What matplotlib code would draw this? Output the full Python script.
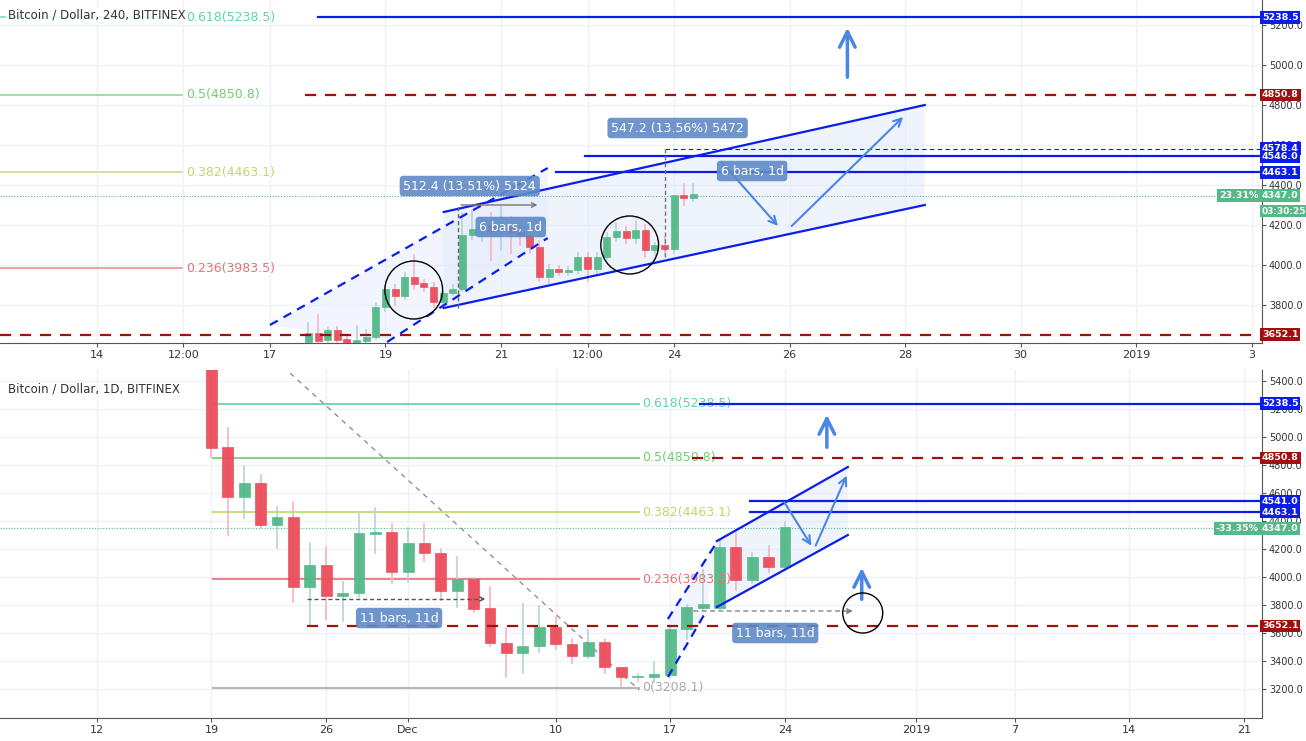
import matplotlib
matplotlib.use("Agg")
import matplotlib.pyplot as plt
from matplotlib.patches import Ellipse, Polygon, FancyArrowPatch
from matplotlib.transforms import blended_transform_factory as btf

plt.rcParams['font.family'] = ['DejaVu Sans']

# ---------------- 4H data (x = days from Dec 17 00:00, bar = 4h) -------------
h4_idx = list(range(4, 45))
h4_open = [3617,3662,3625,3675,3628,3612,3622,3642,3788,3880,3845,3942,3908,3892,3813,3862,3880,4150,4178,4200,4170,4190,4165,4150,4092,3938,3980,3963,3975,4038,3980,4042,4142,4170,4133,4175,4075,4100,4080,4350,4337]
h4_close= [3662,3622,3675,3625,3612,3625,3642,3788,3880,3845,3942,3905,3888,3813,3862,3882,4150,4178,4200,4170,4190,4165,4150,4092,3938,3980,3963,3977,4038,3980,4042,4142,4172,4133,4175,4075,4100,4080,4350,4337,4355]
h4_high = [3709,3750,3690,3690,3640,3695,3675,3808,3900,3900,3962,4050,3925,3910,3870,3900,4258,4270,4230,4258,4292,4242,4200,4175,4120,4000,3995,3990,4060,4060,4060,4160,4210,4190,4220,4200,4110,4140,4110,4403,4403]
h4_low  = [3600,3600,3605,3600,3598,3600,3610,3630,3770,3800,3828,3880,3870,3788,3800,3850,3870,4130,4120,4025,4075,4058,4100,4060,3920,3910,3950,3950,3960,3920,3960,4030,4120,4110,4110,4038,4050,4050,4060,4300,4320]

# ---------------- 1D data (x = days from Dec 1) -----------------------------
d1_idx = list(range(-12, 24))
d1_open = [5620,4929,4571,4671,4371,4429,3929,4086,3864,3886,4307,4321,4036,4243,4171,3900,3986,3779,3529,3457,3507,3643,3521,3436,3536,3357,3286,3286,3300,3629,3779,3779,4214,3979,4143,4071]
d1_close= [4921,4571,4671,4371,4429,3929,4086,3864,3886,4314,4321,4036,4243,4171,3900,3986,3771,3529,3457,3507,3643,3521,3436,3536,3357,3286,3293,3307,3629,3786,3807,4214,3979,4143,4071,4357]
d1_high = [5650,5064,4793,4729,4500,4536,4243,4214,3964,4457,4493,4379,4350,4379,4200,4143,3993,3929,3636,3807,3793,3714,3557,3621,3557,3300,3310,3393,3650,3800,4050,4257,4314,4171,4221,4393]
d1_low  = [4857,4300,4421,4350,4207,3821,3657,3700,3686,3860,4171,3957,3964,4114,3836,3786,3750,3507,3286,3314,3464,3486,3386,3421,3314,3221,3260,3250,3286,3557,3764,3770,3907,3960,4036,4050]

fib_ratios = ["0.618", "0.5", "0.382", "0.236", "0"]
fib_prices = [5238.5, 4850.8, 4463.1, 3983.5, 3208.1]
fib_colors = ["#5fd3b0", "#6fcf6f", "#b8dc6a", "#e57373", "#aaaaaa"]

top_xticks = [-3, -1.5, 0, 2, 4, 5.5, 7, 9, 11, 13, 15, 17]
top_xlabels = ["14", "12:00", "17", "19", "21", "12:00", "24", "26", "28", "30", "2019", "3"]
bot_xticks = [-19, -12, -5, 0, 9, 16, 23, 31, 37, 44, 51]
bot_xlabels = ["12", "19", "26", "Dec", "10", "17", "24", "2019", "7", "14", "21"]

GREEN = "#53b987"; RED = "#eb4d5c"; BLUE = "#0b1ee8"; DRED = "#a01010"
BOXC = "#5f8ac7"; ARW = "#4a86e8"

fig = plt.figure(figsize=(13.06, 7.41), dpi=100)
ax1 = fig.add_axes([0, 398/741, 1262/1306, 343/741])
ax2 = fig.add_axes([0, 23/741, 1262/1306, 348/741])

def style(ax, ylim, xlim, yt, xt, xl):
    ax.set_xlim(*xlim); ax.set_ylim(*ylim)
    ax.yaxis.tick_right()
    ax.set_yticks(yt); ax.set_yticklabels([f"{v:.1f}" for v in yt], fontsize=7, color="#333")
    ax.set_xticks(xt); ax.set_xticklabels(xl, fontsize=8, color="#333")
    ax.grid(True, color="#eef1f6", lw=1)
    ax.set_axisbelow(True)
    for s in ["top", "left"]:
        ax.spines[s].set_visible(False)
    ax.spines["right"].set_color("#555"); ax.spines["bottom"].set_color("#555")
    ax.tick_params(length=3, color="#555", pad=2)

style(ax1, (3610, 5325), (-4.675, 17.18), list(range(3800, 5400, 200)), top_xticks, top_xlabels)
style(ax2, (2993, 5479), (-24.9, 52.1), list(range(3200, 5600, 200)), bot_xticks, bot_xlabels)

def candles(ax, xs, o, c, h, l, w):
    for x, oo, cc, hh, ll in zip(xs, o, c, h, l):
        col = GREEN if cc >= oo else RED
        wc = "#b5d3d8" if cc >= oo else "#f5b5bd"
        ax.plot([x, x], [ll, hh], color=wc, lw=1.2, zorder=3)
        ax.bar(x, abs(cc - oo) or 3, w, bottom=min(oo, cc), color=col, edgecolor=col, lw=0.5, zorder=4, alpha=0.95)

candles(ax1, [k / 6 for k in h4_idx], h4_open, h4_close, h4_high, h4_low, 0.12)
candles(ax2, d1_idx, d1_open, d1_close, d1_high, d1_low, 0.66)

def box(ax, x, y, s, fs=9):
    ax.text(x, y, s, ha="center", va="center", color="white", fontsize=fs, zorder=9,
            bbox=dict(boxstyle="round,pad=0.3", fc=BOXC, ec="none", alpha=0.9))

def rlabel(ax, y, s, fc, dx=1.0, ha="left", fs=6.8):
    ax.text(dx, y, s, transform=btf(ax.transAxes, ax.transData), ha=ha, va="center",
            fontsize=fs, color="white", fontweight="bold", zorder=20, clip_on=False,
            bbox=dict(boxstyle="square,pad=0.18", fc=fc, ec="none"))

def arrow(ax, p0, p1, color=ARW, lw=1.5, ms=14):
    ax.add_patch(FancyArrowPatch(p0, p1, arrowstyle="->", mutation_scale=ms, color=color, lw=lw, zorder=7))

# ---------------- top panel drawings ----------------
for r, p, c in zip(fib_ratios[:4], fib_prices[:4], fib_colors[:4]):
    ax1.plot([-4.7, -1.52], [p, p], color=c, lw=1.2, alpha=0.8, zorder=2)
    ax1.text(-1.45, p, f"{r}({p})", color=c, fontsize=9, va="center", zorder=5)
ax1.axhline(4347, color="#53b987", lw=0.8, ls=(0, (1, 1.5)), zorder=2)
ax1.axhline(3652.1, color=DRED, lw=1.6, ls=(0, (5, 4)), zorder=5)
ax1.plot([0.83, 17.2], [5238.5] * 2, color=BLUE, lw=1.6, zorder=5)
ax1.plot([0.61, 17.2], [4850.8] * 2, color=DRED, lw=1.6, ls=(0, (5, 4)), zorder=5)
ax1.plot([5.45, 17.2], [4546] * 2, color=BLUE, lw=1.6, zorder=5)
ax1.plot([4.96, 17.2], [4463.1] * 2, color=BLUE, lw=1.6, zorder=5)
ax1.plot([6.84, 17.2], [4578.4] * 2, color=BLUE, lw=0.8, ls=(0, (4, 3)), zorder=5)
ax1.add_patch(Polygon([(3.01, 4265), (11.34, 4800), (11.34, 4300), (3.01, 3785)], fc="#dfe8fb", ec="none", alpha=0.5, zorder=1))
ax1.add_patch(Polygon([(0, 3700), (4.81, 4485), (4.81, 4135), (2.03, 3615)], fc="#dfe8fb", ec="none", alpha=0.4, zorder=1))
ax1.plot([3.01, 11.34], [4265, 4800], color=BLUE, lw=1.6, zorder=6)
ax1.plot([3.01, 11.34], [3785, 4300], color=BLUE, lw=1.6, zorder=6)
ax1.plot([0, 4.81], [3700, 4485], color=BLUE, lw=1.6, ls=(0, (4, 3)), zorder=6)
ax1.plot([2.03, 4.81], [3615, 4135], color=BLUE, lw=1.6, ls=(0, (4, 3)), zorder=6)
ax1.plot([3.26, 3.26], [3785, 4300], color="#666", lw=1, ls=(0, (3, 2)), zorder=6)
arrow(ax1, (3.26, 4300), (4.68, 4300), color="#777", lw=1, ms=8)
ax1.plot([6.84, 6.84], [4040, 4578], color="#777", lw=1, ls=(0, (3, 2)), zorder=6)
arrow(ax1, (7.79, 4525), (8.83, 4185))
arrow(ax1, (9.0, 4185), (11.0, 4750))
arrow(ax1, (10.0, 4925), (10.0, 5200), lw=2.5, ms=28)
for cx, cy in [(2.49, 3875), (6.23, 4100)]:
    ax1.add_patch(Ellipse((cx, cy), 1.0, 290, fill=False, ec="black", lw=1, zorder=7))
box(ax1, 3.46, 4395, "512.4 (13.51%) 5124")
box(ax1, 4.17, 4190, "6 bars, 1d")
box(ax1, 7.06, 4685, "547.2 (13.56%) 5472")
box(ax1, 8.35, 4470, "6 bars, 1d")
ax1.text(0.006, 0.955, "Bitcoin / Dollar, 240, BITFINEX", transform=ax1.transAxes, fontsize=8.5, color="#333", va="center", zorder=10,
         bbox=dict(boxstyle="square,pad=0.15", fc="white", ec="none", alpha=0.8))
rlabel(ax1, 5238.5, "5238.5", BLUE)
rlabel(ax1, 4850.8, "4850.8", DRED)
rlabel(ax1, 4583, "4578.4", BLUE)
rlabel(ax1, 4541, "4546.0", BLUE)
rlabel(ax1, 4463.1, "4463.1", BLUE)
rlabel(ax1, 4347, "4347.0", GREEN)
rlabel(ax1, 4270, "03:30:25", GREEN, fs=6.5)
rlabel(ax1, 4347, "23.31%", GREEN, dx=0.997, ha="right")
rlabel(ax1, 3652.1, "3652.1", DRED)

# ---------------- bottom panel drawings ----------------
for r, p, c in zip(fib_ratios, fib_prices, fib_colors):
    ax2.plot([-11.9, 14.1], [p, p], color=c, lw=1.5, alpha=0.85, zorder=2)
    ax2.text(14.3, p, f"{r}({p})", color=c, fontsize=9, va="center", zorder=5)
ax2.axhline(4347, color="#53b987", lw=0.8, ls=(0, (1, 1.5)), zorder=2)
ax2.plot([-6.16, 52.2], [3652.1] * 2, color=DRED, lw=1.6, ls=(0, (5, 4)), zorder=5)
ax2.plot([17.8, 52.2], [5238.5] * 2, color=BLUE, lw=1.6, zorder=5)
ax2.plot([17.3, 52.2], [4850.8] * 2, color=DRED, lw=1.6, ls=(0, (5, 4)), zorder=5)
ax2.plot([20.85, 52.2], [4541] * 2, color=BLUE, lw=1.6, zorder=5)
ax2.plot([20.85, 52.2], [4463.1] * 2, color=BLUE, lw=1.6, zorder=5)
ax2.plot([-7.2, 14.1], [5457, 3193], color="#888", lw=0.9, ls=(0, (4, 4)), zorder=3)
ax2.add_patch(Polygon([(18.84, 4257), (26.83, 4786), (26.83, 4300), (18.84, 3786)], fc="#dfe8fb", ec="none", alpha=0.5, zorder=1))
ax2.add_patch(Polygon([(15.85, 3700), (18.84, 4250), (18.23, 3764), (15.85, 3286)], fc="#dfe8fb", ec="none", alpha=0.4, zorder=1))
ax2.plot([18.84, 26.83], [4257, 4786], color=BLUE, lw=1.6, zorder=6)
ax2.plot([18.84, 26.83], [3786, 4300], color=BLUE, lw=1.6, zorder=6)
ax2.plot([15.85, 18.84], [3700, 4250], color=BLUE, lw=1.6, ls=(0, (4, 3)), zorder=6)
ax2.plot([15.85, 18.23], [3286, 3764], color=BLUE, lw=1.6, ls=(0, (4, 3)), zorder=6)
arrow(ax2, (22.87, 4550), (24.7, 4207))
arrow(ax2, (24.8, 4207), (26.83, 4743))
arrow(ax2, (25.55, 4907), (25.55, 5179), lw=2.5, ms=28)
arrow(ax2, (27.68, 3821), (27.68, 4086), lw=2.5, ms=28)
ax2.add_patch(Ellipse((27.74, 3743), 2.44, 286, fill=False, ec="black", lw=1, zorder=7))
ax2.plot([-6.16, 4.6], [3843, 3843], color="#555", lw=1, ls=(0, (3, 2)), zorder=6)
arrow(ax2, (4.3, 3843), (4.88, 3843), color="#555", lw=1, ms=8)
ax2.plot([16.9, 26.9], [3757, 3757], color="#999", lw=1.2, ls=(0, (3, 2)), zorder=6)
arrow(ax2, (26.6, 3757), (27.3, 3757), color="#777", lw=1, ms=8)
box(ax2, -0.55, 3707, "11 bars, 11d")
box(ax2, 22.4, 3600, "11 bars, 11d")
ax2.text(0.006, 0.945, "Bitcoin / Dollar, 1D, BITFINEX", transform=ax2.transAxes, fontsize=8.5, color="#333", va="center")
rlabel(ax2, 5238.5, "5238.5", BLUE)
rlabel(ax2, 4850.8, "4850.8", DRED)
rlabel(ax2, 4541, "4541.0", BLUE)
rlabel(ax2, 4463.1, "4463.1", BLUE)
rlabel(ax2, 4347, "4347.0", GREEN)
rlabel(ax2, 4347, "-33.35%", GREEN, dx=0.997, ha="right")
rlabel(ax2, 3652.1, "3652.1", DRED)

fig.savefig("out.png", dpi=100, facecolor="white")
